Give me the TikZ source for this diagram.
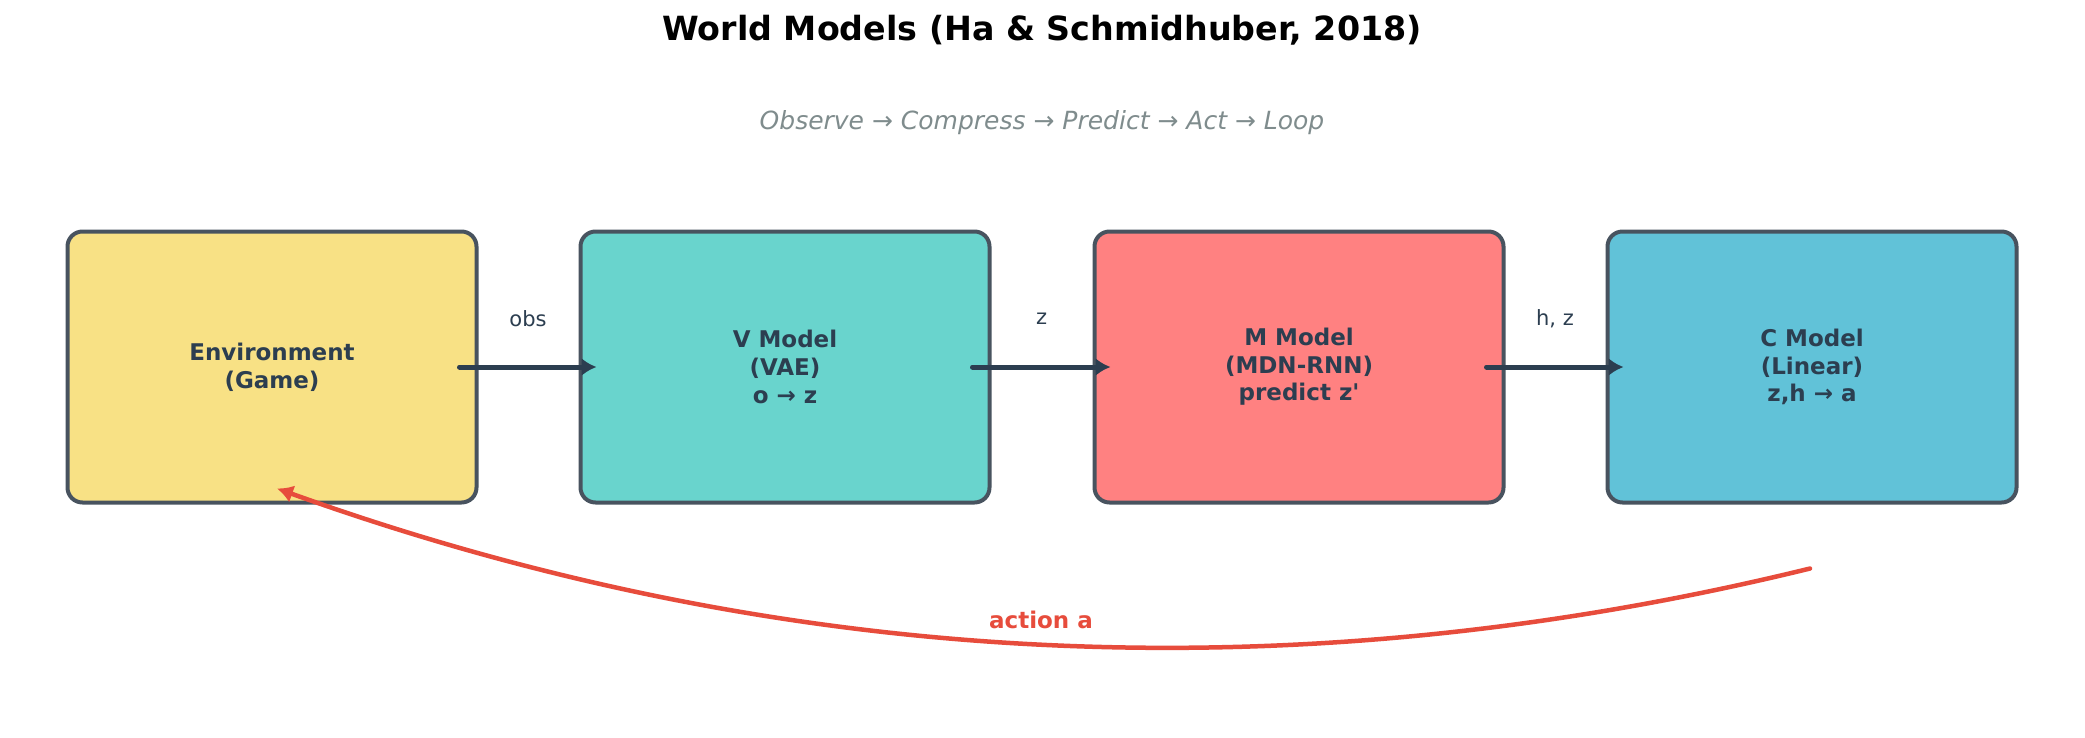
\documentclass[tikz,border=0pt]{standalone}
\usepackage{fontspec}
\setmainfont{DejaVu Sans}
\usetikzlibrary{arrows.meta,calc,positioning}
\definecolor{wmInk}{HTML}{2C3E50}
\definecolor{wmEdge}{HTML}{48535F}
\definecolor{wmGray}{HTML}{7F8C8D}
\definecolor{wmRed}{HTML}{E74C3C}
\definecolor{wmYellow}{HTML}{F8E185}
\definecolor{wmTeal}{HTML}{69D4CD}
\definecolor{wmRose}{HTML}{FF8181}
\definecolor{wmBlue}{HTML}{61C2D8}

\begin{document}
\begin{tikzpicture}[x=1pt,y=-1pt,>=Latex,line cap=round,line join=round]
\path[fill=white] (0,0) rectangle (2085,737);
\tikzset{modelbox/.style={draw=wmEdge,line width=4pt,rounded corners=15pt,minimum width=409pt,minimum height=271pt,align=center,text=wmInk,font=\fontsize{23}{27.6}\selectfont\bfseries},flow/.style={draw=wmInk,line width=5pt,-{Latex[length=15pt,width=18pt]}},edgelbl/.style={text=wmInk,font=\fontsize{21}{25}\selectfont},action/.style={draw=wmRed,line width=4.5pt,-{Latex[length=16pt,width=18pt]}}}
\node[font=\fontsize{33.3}{40}\selectfont\bfseries] (title) at (1042,30) {World Models (Ha \& Schmidhuber, 2018)};
\node[text=wmGray,font=\fontsize{25}{30}\selectfont\itshape] (subtitle) at (1042,123) {Observe → Compress → Predict → Act → Loop};
% the four models
\node[modelbox,fill=wmYellow] (env) at (272,367) {Environment\\(Game)};
\node[modelbox,fill=wmTeal] (vmod) at (785,367) {V Model\\(VAE)\\o → z};
\node[modelbox,fill=wmRose] (mmod) at (1299,367) {M Model\\(MDN-RNN)\\predict z\textquotesingle};
\node[modelbox,fill=wmBlue] (cmod) at (1812,367) {C Model\\(Linear)\\z,h → a};
% data flow
\draw[flow] ($(env.east)+(-19,0)$) -- node[edgelbl,yshift=48pt] (obslbl) {obs} ($(vmod.west)+(18,0)$);
\draw[flow] ($(vmod.east)+(-19,0)$) -- node[edgelbl,yshift=48pt] (zlbl) {z} ($(mmod.west)+(18,0)$);
\draw[flow] ($(mmod.east)+(-19,0)$) -- node[edgelbl,yshift=48pt] (hzlbl) {h, z} ($(cmod.west)+(18,0)$);
% action loop back to the game
\coordinate (actfrom) at ($(cmod.south)+(-2,64)$);
\coordinate (actto) at ($(env.south)+(5,-16)$);
\draw[action] (actfrom) .. controls (1290,696) and (780,669) .. (actto);
\node[text=wmRed,font=\fontsize{23}{27.6}\selectfont\bfseries] (actlbl) at (1041,620) {action a};
\end{tikzpicture}
\end{document}
